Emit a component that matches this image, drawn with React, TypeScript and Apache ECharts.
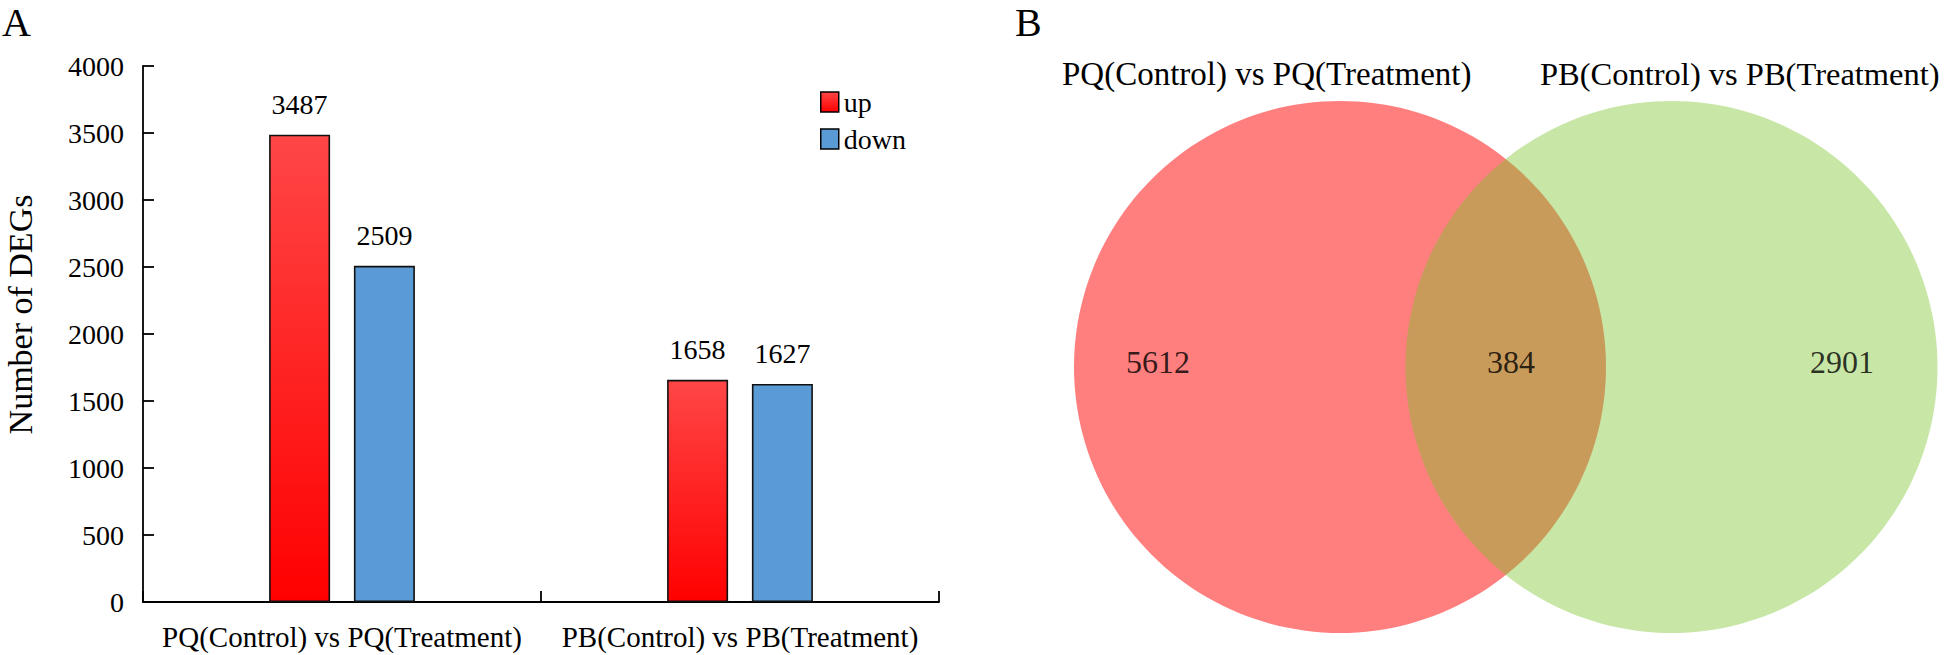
import React, { useEffect, useRef } from "react";
import * as echarts from "echarts";

// ---- data ----
const categories = ["PQ(Control) vs PQ(Treatment)", "PB(Control) vs PB(Treatment)"];
const seriesNames = ["up", "down"];
const upValues = [3487, 1658];
const downValues = [2509, 1627];
const yTicks = { min: 0, max: 4000, interval: 500 };

const vennSetNames = ["PQ(Control) vs PQ(Treatment)", "PB(Control) vs PB(Treatment)"];
const vennCounts = [5612, 384, 2901]; // PQ only, both, PB only

// ---- layout (positions only) ----
const vennCenters = [[0, 0.5], [1, 0.5]];
const vennLabelX = [-0.549, 0.516, 1.514];
const vennLabelY = 0.51;

const FONT = "Liberation Serif";

export default function App() {
  const ref = useRef<HTMLDivElement>(null);
  useEffect(() => {
    if (!ref.current) return;
    const chart = echarts.init(ref.current, null, { renderer: "svg" });
    const redGrad = new echarts.graphic.LinearGradient(0, 0, 0, 1, [
      { offset: 0, color: "#FF4646" },
      { offset: 1, color: "#FF0000" },
    ]);
    const axisLine = { show: true, lineStyle: { color: "#000", width: 1.8 } };
    const txt = (text: string, x: number, y: number, fontSize: number, extra: any = {}) => ({
      type: "text",
      x,
      y,
      ...extra,
      style: {
        text,
        fontSize,
        fontFamily: FONT,
        fill: "#000",
        align: extra.align || "left",
        verticalAlign: "middle",
        textAlign: extra.align || "left",
        textVerticalAlign: "middle",
      },
    });
    const option: any = {
      animation: false,
      backgroundColor: "#fff",
      textStyle: { fontFamily: FONT, color: "#000" },
      grid: [
        { left: 143, top: 66, width: 796, height: 536 },
        { left: 1141.1, top: 101, width: 729.3, height: 532 },
      ],
      xAxis: [
        {
          gridIndex: 0,
          type: "category",
          data: categories,
          axisLine,
          axisTick: { show: true, inside: true, length: 11, lineStyle: { color: "#000", width: 1.8 } },
          axisLabel: { interval: 0, fontSize: 29, color: "#000", margin: 20, fontFamily: FONT },
        },
        { gridIndex: 1, type: "value", min: -0.6, max: 1.6, show: false },
      ],
      yAxis: [
        {
          gridIndex: 0,
          type: "value",
          min: yTicks.min,
          max: yTicks.max,
          interval: yTicks.interval,
          axisLine,
          axisTick: { show: true, inside: true, length: 11, lineStyle: { color: "#000", width: 1.8 } },
          axisLabel: {
            fontSize: 28,
            color: "#000",
            margin: 19,
            fontFamily: FONT,
            formatter: (v: number) => String(v),
          },
          splitLine: { show: false },
        },
        { gridIndex: 1, type: "value", min: 0, max: 1, show: false },
      ],
      legend: {
        orient: "vertical",
        left: 820,
        top: 88,
        padding: 0,
        icon: "rect",
        itemWidth: 18,
        itemHeight: 20,
        itemGap: 9,
        data: seriesNames,
        itemStyle: { borderColor: "#000", borderWidth: 1.5 },
        textStyle: { fontSize: 28, color: "#000", fontFamily: FONT },
      },
      series: [
        {
          name: seriesNames[0],
          type: "bar",
          data: upValues,
          barWidth: 61,
          barGap: "39%",
          itemStyle: { color: redGrad, borderColor: "#111", borderWidth: 1.6 },
          label: { show: true, position: "top", distance: 16, fontSize: 28, color: "#000", fontFamily: FONT },
        },
        {
          name: seriesNames[1],
          type: "bar",
          data: downValues,
          barWidth: 61,
          barGap: "39%",
          itemStyle: { color: "#5B9BD5", borderColor: "#111", borderWidth: 1.6 },
          label: { show: true, position: "top", distance: 16, fontSize: 28, color: "#000", fontFamily: FONT },
        },
        {
          name: "venn",
          type: "scatter",
          xAxisIndex: 1,
          yAxisIndex: 1,
          silent: true,
          symbol: "circle",
          symbolSize: 532,
          data: [
            { value: vennCenters[0], itemStyle: { color: "#FF0000", opacity: 0.5 } },
            { value: vennCenters[1], itemStyle: { color: "rgb(124,195,43)", opacity: 0.42 } },
          ],
        },
        {
          name: "vennLabels",
          type: "scatter",
          xAxisIndex: 1,
          yAxisIndex: 1,
          silent: true,
          symbolSize: 1,
          itemStyle: { color: "rgba(0,0,0,0)" },
          z: 5,
          data: vennCounts.map((c, i) => ({ value: [vennLabelX[i], vennLabelY], name: String(c) })),
          label: {
            show: true,
            position: "inside",
            formatter: (p: any) => String(vennCounts[p.dataIndex]),
            fontSize: 32,
            color: "#000",
            fontFamily: FONT,
          },
        },
      ],
      graphic: [
        txt("A", 2, 22, 40),
        txt("B", 1015, 22, 40),
        txt("Number of DEGs", 20.5, 314.5, 34, { rotation: Math.PI / 2, align: "center" }),
        txt(vennSetNames[0], 1062, 73.5, 33),
        txt(vennSetNames[1], 1540, 73.5, 32.5),
      ],
    };
    chart.setOption(option);
    return () => chart.dispose();
  }, []);
  return (
    <div
      ref={ref}
      style={{ position: "absolute", left: 0, top: 0, width: 1946, height: 655 }}
    />
  );
}
